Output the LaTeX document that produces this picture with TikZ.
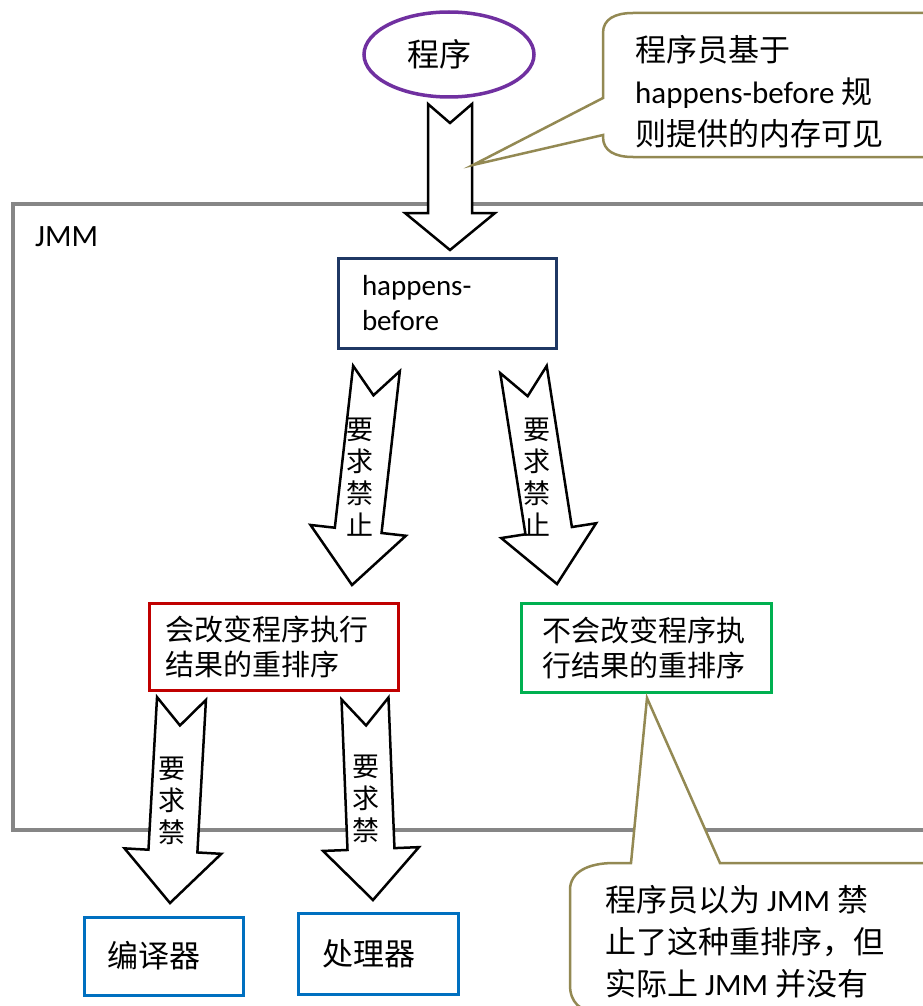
\documentclass[tikz,border=0pt]{standalone}
\usepackage{fontspec}
\setmainfont{Carlito}
\newfontfamily\cjk{Noto Sans CJK SC}
\usetikzlibrary{calc,shapes.geometric}

\definecolor{progpurple}{HTML}{7030A0}
\definecolor{noteolive}{HTML}{938953}
\definecolor{jmmgray}{HTML}{868686}
\definecolor{hbnavy}{HTML}{1F3864}
\definecolor{chgred}{HTML}{C00000}
\definecolor{keepgreen}{HTML}{00B050}
\definecolor{hwblue}{HTML}{0070C0}

\tikzset{
  blockarrow/.style={draw=black, fill=white, line width=2.5pt, line join=miter},
  box/.style={draw, fill=white, line width=3pt, align=left, inner ysep=0pt},
  armtext/.style={font=\cjk\fontsize{27}{32}\selectfont, align=center, inner sep=0pt, text=black},
  callout/.style={draw=noteolive, fill=white, line width=2.5pt},
}

% #1 tail, #2 tip, #3 half shaft, #4 half head, #5 head length, #6 notch depth
\newcommand{\blockarrow}[6]{
  \coordinate (#1hb) at ($(#2)!#5!(#1)$);
  \draw[blockarrow] ($(#1)!#3!-90:(#2)$) -- ($(#1)!#6!(#2)$) -- ($(#1)!#3!90:(#2)$)
    -- ($(#1hb)!#3!90:(#2)$) -- ($(#1hb)!#4!90:(#2)$) -- (#2)
    -- ($(#1hb)!#4!-90:(#2)$) -- ($(#1hb)!#3!-90:(#2)$) -- cycle;
}

\begin{document}
\begin{tikzpicture}[x=1pt, y=-1pt]
    \useasboundingbox (0,0) rectangle (922,1006);

    % JMM frame
    \draw[jmmgray, line width=4pt] (13,204) rectangle (940,830);
    \node[anchor=base west, inner sep=0pt, font=\fontsize{31}{36}\selectfont] (jmm) at (35,246) {JMM};

    \node[ellipse, draw=progpurple, line width=3.5pt, minimum width=170pt, minimum height=85pt, inner sep=0pt,
          font=\cjk\fontsize{32}{38}\selectfont] (prog) at (449,54.5) {\hspace*{-20pt}程序};

    \node[box, draw=hbnavy, text width=170pt, inner xsep=24pt, minimum height=90pt,
          font=\fontsize{29}{35}\selectfont] (hb) at (447,303) {happens-\\before};
    \node[box, draw=chgred, text width=217pt, inner xsep=16pt, minimum height=87pt,
          font=\cjk\fontsize{29}{35}\selectfont] (chg) at (273.5,646.5) {会改变程序执行\\结果的重排序};
    \node[box, draw=keepgreen, text width=208pt, inner xsep=21pt, minimum height=89pt,
          font=\cjk\fontsize{29}{35}\selectfont] (keep) at (646,647.5) {不会改变程序执\\行结果的重排序};
    \node[box, draw=hwblue, text width=113pt, inner xsep=23pt, minimum height=78pt,
          font=\cjk\fontsize{31}{36}\selectfont] (cmp) at (163.5,956) {编译器};
    \node[box, draw=hwblue, text width=112pt, inner xsep=24pt, minimum height=81pt,
          font=\cjk\fontsize{31}{36}\selectfont] (cpu) at (378,953.5) {处理器};

    % block arrows
    \coordinate (a0) at (450,104);     \coordinate (a0tip) at (450,250);
    \coordinate (a1) at (376.5,368.5); \coordinate (a1tip) at (352,585);
    \coordinate (a2) at (523.5,369.5); \coordinate (a2tip) at (557,584);
    \coordinate (a3) at (181.5,698.5); \coordinate (a3tip) at (170,903);
    \coordinate (a4) at (365,698.5);   \coordinate (a4tip) at (373,900);
    \blockarrow{a0}{a0tip}{22pt}{45pt}{37pt}{19pt}
    \blockarrow{a1}{a1tip}{23.5pt}{48pt}{55pt}{27pt}
    \blockarrow{a2}{a2tip}{23.5pt}{48pt}{54pt}{27pt}
    \blockarrow{a3}{a3tip}{24.5pt}{48.5pt}{52pt}{27pt}
    \blockarrow{a4}{a4tip}{23.5pt}{48pt}{51pt}{27pt}
    \node[armtext] (t1) at (360,477) {要\\求\\禁\\止};
    \node[armtext] (t2) at (537,477) {要\\求\\禁\\止};
    \node[armtext] (t3) at (172,801) {要\\求\\禁};
    \node[armtext] (t4) at (366,799) {要\\求\\禁};

    % callouts
    \coordinate (n1tip) at (473,165);
    \draw[callout] (603,98) -- (n1tip) -- (603,135) -- (603,137) .. controls (603,151) and (615,157) .. (633,157)
        -- (940,157) -- (940,13) -- (633,13) .. controls (615,13) and (603,19) .. (603,33) -- cycle;
    \node[anchor=west, align=left, inner sep=0pt, font=\fontsize{31}{42}\selectfont] (note1) at (635,92)
        {{\cjk 程序员基于}\\happens-before {\cjk 规}\\{\cjk 则提供的内存可见}};

    \coordinate (n2tip) at (647,698);
    \draw[callout] (631,863) -- (n2tip) -- (720,863) -- (940,863) -- (940,1012) -- (598,1012)
        .. controls (580,1012) and (570,1002) .. (570,985) -- (570,890) .. controls (570,872) and (588,863) .. (614,863) -- cycle;
    \node[anchor=west, align=left, inner sep=0pt, font=\fontsize{31}{42}\selectfont] (note2) at (605,942)
        {{\cjk 程序员以为} JMM {\cjk 禁}\\{\cjk 止了这种重排序，但}\\{\cjk 实际上} JMM {\cjk 并没有}};
\end{tikzpicture}
\end{document}
